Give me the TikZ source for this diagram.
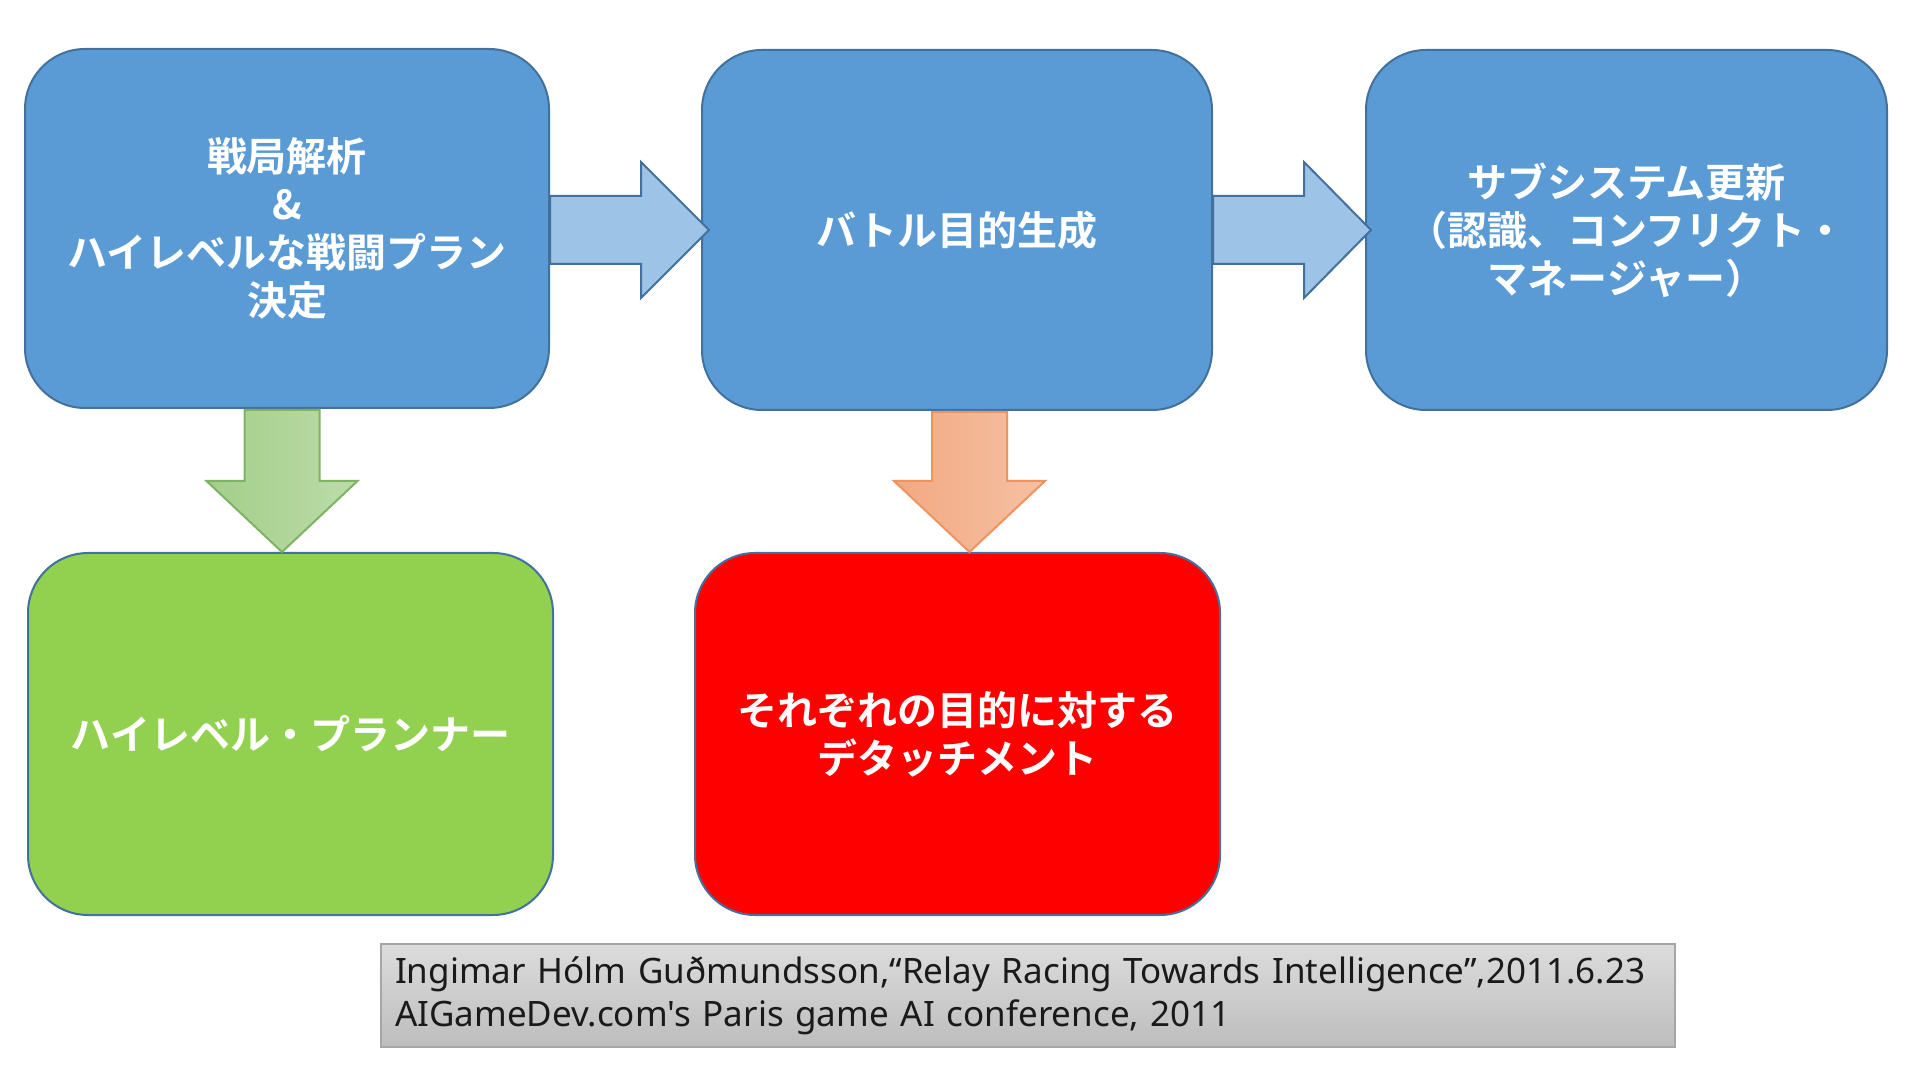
\documentclass[tikz,border=0pt]{standalone}
\usepackage{fontspec}
\newfontfamily\jpb{Noto Sans CJK JP Bold}
\newfontfamily\latin{Noto Sans}
\usetikzlibrary{calc}
\definecolor{bluebox}{HTML}{5B9BD5}
\definecolor{boxline}{HTML}{41719C}
\definecolor{lightarrow}{HTML}{9DC3E6}
\definecolor{greenbox}{HTML}{92D050}
\definecolor{redbox}{HTML}{FF0000}
\definecolor{garrowA}{HTML}{A3CE89}
\definecolor{garrowB}{HTML}{BCDCA9}
\definecolor{garrowline}{HTML}{7DB363}
\definecolor{oarrowA}{HTML}{F2A982}
\definecolor{oarrowB}{HTML}{F6C0A3}
\definecolor{oarrowline}{HTML}{EE945F}
\definecolor{citeA}{HTML}{DCDCDC}
\definecolor{citeB}{HTML}{BDBDBD}
\definecolor{citeline}{HTML}{A6A6A6}
\definecolor{citetext}{HTML}{1A1A1A}
\begin{document}
\begin{tikzpicture}[x=1pt,y=1pt,
  box/.style={draw=boxline,line width=2pt,rounded corners=60pt,text=white,
    font=\jpb\fontsize{40}{48}\selectfont,align=center,inner sep=0pt},
  rarrow/.style={draw=boxline,line width=2pt,fill=lightarrow,line join=miter},
  garrow/.style={draw=garrowline,line width=2pt,left color=garrowA,right color=garrowB},
  oarrow/.style={draw=oarrowline,line width=2pt,left color=oarrowA,right color=oarrowB},
  citebox/.style={draw=citeline,line width=1.5pt,top color=citeA,bottom color=citeB,
    text=citetext,font=\latin\fontsize{35}{43}\selectfont,align=left,inner xsep=14pt,inner ysep=0pt}]
\useasboundingbox (0,0) rectangle (1920,1080);
\fill[white] (0,0) rectangle (1920,1080);

\node[box,fill=bluebox,minimum width=524pt,minimum height=359pt] (b1) at (287,851.5)
  {戦局解析\\\&\\ハイレベルな戦闘プラン\\決定};
\node[box,fill=bluebox,minimum width=510pt,minimum height=360pt] (b2) at (957,850)
  {バトル目的生成};
\node[box,fill=bluebox,minimum width=521pt,minimum height=360pt] (b3) at (1626.5,850)
  {サブシステム更新\\（認識、コンフリクト・\\マネージャー）};
\node[box,fill=greenbox,minimum width=525pt,minimum height=362pt] (b4) at (290.5,346)
  {ハイレベル・プランナー};
\node[box,fill=redbox,minimum width=525pt,minimum height=362pt] (b5) at (957.5,346)
  {それぞれの目的に対する\\デタッチメント};

% right arrows
\path[rarrow] let \p1=(b1.east), \p2=($(b2.west)+(8,0)$) in
  (\x1,\y2+34pt) -- (\x2-68pt,\y2+34pt) -- (\x2-68pt,\y2+68pt) -- (\x2,\y2)
  -- (\x2-68pt,\y2-68pt) -- (\x2-68pt,\y2-34pt) -- (\x1,\y2-34pt) -- cycle;
\path[rarrow] let \p1=(b2.east), \p2=($(b3.west)+(6,0)$) in
  (\x1,\y2+34pt) -- (\x2-67pt,\y2+34pt) -- (\x2-67pt,\y2+68pt) -- (\x2,\y2)
  -- (\x2-67pt,\y2-68pt) -- (\x2-67pt,\y2-34pt) -- (\x1,\y2-34pt) -- cycle;

% down arrows
\path[garrow] let \p1=($(b1.south)+(-5,-1)$), \p2=(b4.north) in
  (\x1-37.5pt,\y1) -- (\x1+37.5pt,\y1) -- (\x1+37.5pt,\y2+71pt) -- (\x1+75.5pt,\y2+71pt)
  -- (\x1,\y2) -- (\x1-75.5pt,\y2+71pt) -- (\x1-37.5pt,\y2+71pt) -- cycle;
\path[oarrow] let \p1=($(b2.south)+(12.5,-1)$), \p2=(b5.north) in
  (\x1-37.5pt,\y1) -- (\x1+37.5pt,\y1) -- (\x1+37.5pt,\y2+71pt) -- (\x1+75.5pt,\y2+71pt)
  -- (\x1,\y2) -- (\x1-75.5pt,\y2+71pt) -- (\x1-37.5pt,\y2+71pt) -- cycle;

\node[citebox,minimum width=1294pt,minimum height=103pt,text width=1266pt] (cite) at (1028,84.5)
  {Ingimar Hólm Guðmundsson,“Relay Racing Towards Intelligence”,2011.6.23\\
   AIGameDev.com's Paris game AI conference, 2011};
\end{tikzpicture}
\end{document}
